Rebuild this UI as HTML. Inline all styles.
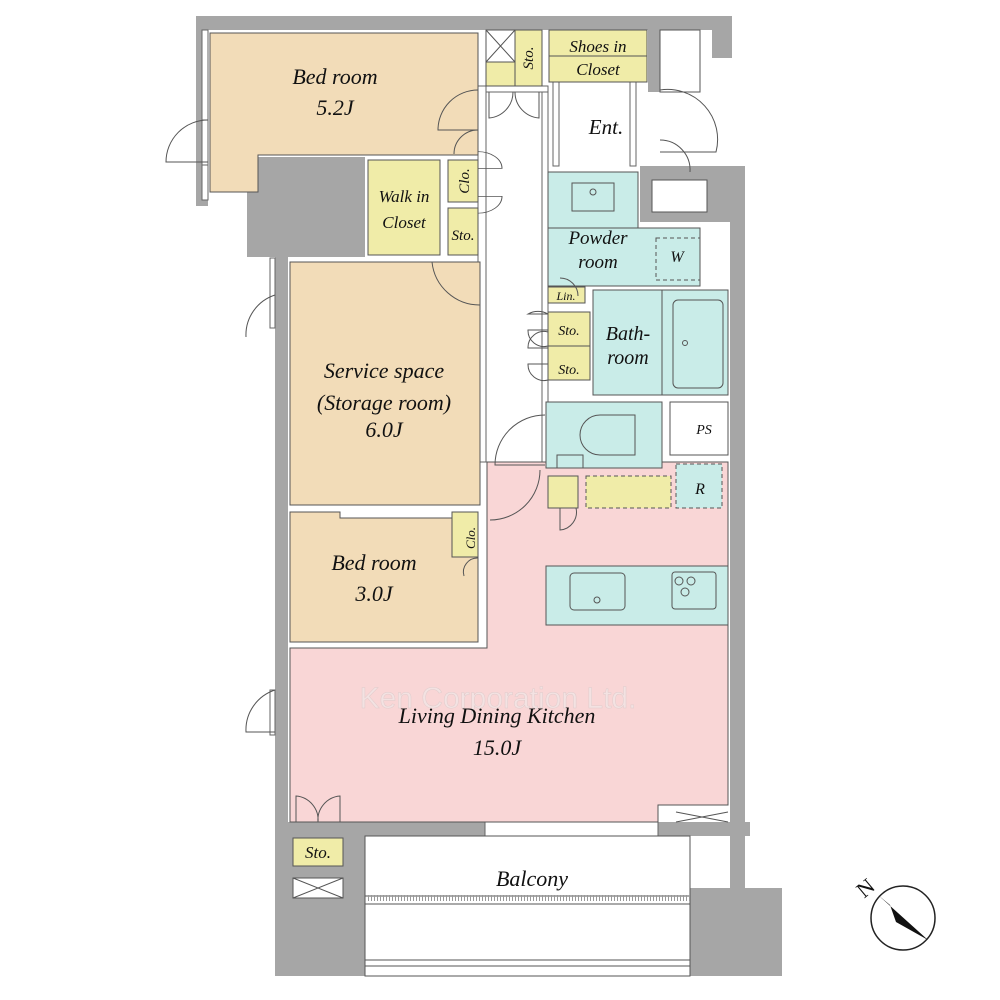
<!DOCTYPE html>
<html><head><meta charset="utf-8"><style>
body{margin:0;background:#fff}
svg{display:block}
text{font-family:"Liberation Serif",serif;font-style:italic;fill:#111}
</style></head><body>
<svg width="1000" height="1000" viewBox="0 0 1000 1000">
<g fill="#a6a6a6">
<rect x="196" y="16" width="536" height="14"/>
<rect x="196" y="16" width="12" height="190"/>
<rect x="247" y="157" width="118" height="100"/>
<rect x="275" y="257" width="13" height="570"/>
<rect x="275" y="822" width="90" height="154"/>
<rect x="730" y="170" width="15" height="720"/>
<rect x="690" y="888" width="92" height="88"/>
<rect x="640" y="166" width="105" height="56"/>
<rect x="648" y="30" width="12" height="62"/>
<rect x="712" y="16" width="20" height="42"/>
<rect x="345" y="822" width="140" height="14"/>
<rect x="658" y="822" width="92" height="14"/>
</g>
<rect x="652" y="180" width="55" height="32" fill="#fff" stroke="#555"/>
<rect x="660" y="30" width="40" height="62" fill="#fff" stroke="#555"/>
<g fill="#fff" stroke="#666" stroke-width="1">
<rect x="478" y="86" width="8" height="376"/>
<rect x="542" y="86" width="6" height="424"/>
<rect x="486" y="86" width="62" height="6"/>
<rect x="553" y="82" width="6" height="84"/>
<rect x="630" y="82" width="6" height="84"/>
<rect x="485" y="822" width="173" height="14"/>
<rect x="202" y="30" width="6" height="170"/>
<rect x="270" y="258" width="5" height="70"/>
<rect x="270" y="690" width="5" height="45"/>
<rect x="202" y="120" width="6" height="45"/>
</g>
<g stroke="#555" stroke-width="1">
<path d="M210 33H478V155H258V192H210Z" fill="#f2dcb8"/>
<rect x="290" y="262" width="190" height="243" fill="#f2dcb8"/>
<path d="M290 512H340V518H478V642H290Z" fill="#f2dcb8"/>
<path d="M487 462H728V805H658V822H290V648H487Z" fill="#f9d6d6"/>
<rect x="546" y="566" width="182" height="59" fill="#c9ece8"/>
<rect x="548" y="172" width="90" height="112" fill="#c9ece8"/>
<path d="M638 228H700V286H548V228Z" fill="#c9ece8"/>
<rect x="593" y="290" width="135" height="105" fill="#c9ece8"/>
<rect x="546" y="402" width="116" height="66" fill="#c9ece8"/>
<rect x="670" y="402" width="58" height="53" fill="#fff"/>
<rect x="676" y="464" width="46" height="44" fill="#c9ece8" stroke-dasharray="4 3"/>
<rect x="586" y="476" width="85" height="32" fill="#f0eca8" stroke-dasharray="4 3"/>
<rect x="548" y="476" width="30" height="32" fill="#f0eca8"/>
<rect x="548" y="287" width="37" height="16" fill="#f0eca8"/>
<rect x="548" y="312" width="42" height="34" fill="#f0eca8"/>
<rect x="548" y="346" width="42" height="34" fill="#f0eca8"/>
<rect x="368" y="160" width="72" height="95" fill="#f0eca8"/>
<rect x="448" y="160" width="30" height="42" fill="#f0eca8"/>
<rect x="448" y="208" width="30" height="47" fill="#f0eca8"/>
<rect x="452" y="512" width="26" height="45" fill="#f0eca8"/>
<rect x="486" y="62" width="56" height="24" fill="#f0eca8"/>
<rect x="515" y="30" width="27" height="56" fill="#f0eca8"/>
<rect x="486" y="30" width="29" height="32" fill="#fff"/>
<rect x="549" y="30" width="98" height="52" fill="#f0eca8"/>
<path d="M549 56H647" fill="none"/>
<rect x="293" y="838" width="50" height="28" fill="#f0eca8"/>
<rect x="293" y="878" width="50" height="20" fill="#fff"/>
<rect x="365" y="836" width="325" height="140" fill="#fff"/>
<rect x="365" y="896" width="325" height="8" fill="#fff"/>
<rect x="365" y="960" width="325" height="6" fill="none"/>
<rect x="656" y="238" width="44" height="42" fill="none" stroke-dasharray="4 3"/>
<rect x="572" y="183" width="42" height="28" fill="none"/>
<rect x="673" y="300" width="50" height="88" rx="5" fill="none"/>
<rect x="570" y="573" width="55" height="37" rx="4" fill="none"/>
<rect x="672" y="572" width="44" height="37" rx="3" fill="none"/>
<path d="M600 415h35v40h-35a20 20 0 0 1 0-40z" fill="none"/>
<rect x="557" y="455" width="26" height="13" fill="none"/>
<path d="M662 290V395" fill="none"/>
<path d="M486 30l29 32M515 30l-29 32M293 878l50 20M343 878l-50 20M676 812l52 10M728 812l-52 10" fill="none"/>
</g>
<g fill="none" stroke="#555" stroke-width="1">
<circle cx="597" cy="600" r="3"/><circle cx="679" cy="581" r="4"/><circle cx="691" cy="581" r="4"/><circle cx="685" cy="592" r="4"/>
<circle cx="593" cy="192" r="3"/><circle cx="685" cy="343" r="2.5"/>
<path d="M368 898h322" stroke-dasharray="1 2" stroke-width="6" stroke="#999"/>
</g>
<g fill="none" stroke="#555">
<path d="M478 90A40 40 0 0 0 438 130H478"/><path d="M478 130A24 24 0 0 0 454 154"/>
<path d="M480 305A48 48 0 0 1 432 262"/>
<path d="M545 415A50 50 0 0 0 495 465H545"/><path d="M490 520A50 50 0 0 0 540 470"/>
<path d="M208 120A42 42 0 0 0 166 162H208"/><path d="M275 295A42 42 0 0 0 246 337"/>
<path d="M275 690A42 42 0 0 0 246 732H275"/><path d="M660 90A50 50 0 0 1 716 152H660"/>
<path d="M660 140A30 30 0 0 1 690 172"/>
<path d="M578 296a18 18 0 0 0-18-18"/>
<path d="M489 92v26a26 26 0 0 0 24-26M539 92v26a26 26 0 0 1-24-26"/>
<path d="M478 212h24a24 24 0 0 0-24-24M478 252h24a24 24 0 0 1-24 24" transform="translate(0 20) scale(1 0.7)"/>
<path d="M548 314h-20a20 20 0 0 1 20-0M548 330h-20a16 16 0 0 0 20 16M548 348h-20a16 16 0 0 1 20-16M548 364h-20a16 16 0 0 0 20 16"/>
<path d="M296 822v-26a24 24 0 0 1 22 26M340 822v-26a24 24 0 0 0-22 26"/>
<path d="M560 508v22a18 18 0 0 0 16-22"/>
<path d="M478 558a14 14 0 0 0-14 18"/>
</g>
<text x="335" y="84" font-size="22" text-anchor="middle">Bed room</text>
<text x="335" y="115" font-size="22" text-anchor="middle">5.2J</text>
<text x="404" y="202" font-size="17" text-anchor="middle">Walk in</text>
<text x="404" y="228" font-size="17" text-anchor="middle">Closet</text>
<text x="463" y="240" font-size="15" text-anchor="middle">Sto.</text>
<text x="469" y="181" font-size="15" text-anchor="middle" transform="rotate(-90 469 181)">Clo.</text>
<text x="533" y="58" font-size="15" text-anchor="middle" transform="rotate(-90 533 58)">Sto.</text>
<text x="598" y="52" font-size="17" text-anchor="middle">Shoes in</text>
<text x="598" y="75" font-size="17" text-anchor="middle">Closet</text>
<text x="606" y="134" font-size="21" text-anchor="middle">Ent.</text>
<text x="598" y="244" font-size="19" text-anchor="middle">Powder</text>
<text x="598" y="268" font-size="19" text-anchor="middle">room</text>
<text x="677" y="262" font-size="16" text-anchor="middle">W</text>
<text x="566" y="300" font-size="12" text-anchor="middle">Lin.</text>
<text x="569" y="335" font-size="14" text-anchor="middle">Sto.</text>
<text x="569" y="374" font-size="14" text-anchor="middle">Sto.</text>
<text x="628" y="340" font-size="20" text-anchor="middle">Bath-</text>
<text x="628" y="364" font-size="20" text-anchor="middle">room</text>
<text x="704" y="434" font-size="14" text-anchor="middle">PS</text>
<text x="700" y="494" font-size="16" text-anchor="middle">R</text>
<text x="384" y="378" font-size="22" text-anchor="middle">Service space</text>
<text x="384" y="410" font-size="22" text-anchor="middle">(Storage room)</text>
<text x="384" y="437" font-size="22" text-anchor="middle">6.0J</text>
<text x="374" y="570" font-size="22" text-anchor="middle">Bed room</text>
<text x="374" y="601" font-size="22" text-anchor="middle">3.0J</text>
<text x="470" y="543" font-size="13" text-anchor="middle" transform="rotate(-90 470 538)">Clo.</text>
<text x="498" y="708" font-size="30" text-anchor="middle" style="font-style:normal;font-family:'Liberation Sans',sans-serif;fill:#f3e2e2" stroke="#e0cccc" stroke-width=".5">Ken Corporation Ltd.</text>
<text x="497" y="723" font-size="22" text-anchor="middle">Living Dining Kitchen</text>
<text x="497" y="755" font-size="22" text-anchor="middle">15.0J</text>
<text x="318" y="858" font-size="17" text-anchor="middle">Sto.</text>
<text x="532" y="886" font-size="22" text-anchor="middle">Balcony</text>
<circle cx="903" cy="918" r="32" fill="#fff" stroke="#222" stroke-width="1.5"/>
<path d="M878 895L928 940L896 922L890 905Z" fill="#111"/>
<text x="858" y="898" font-size="22" style="font-style:normal" transform="rotate(-40 862 890)">N</text>
</svg>
</body></html>
